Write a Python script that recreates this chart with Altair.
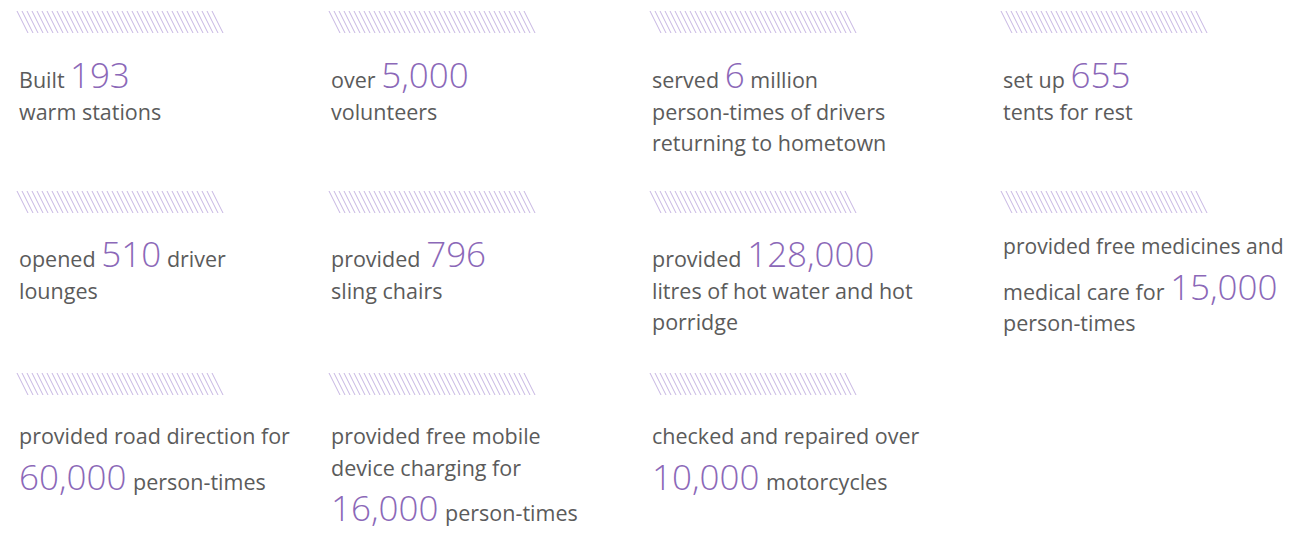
import altair as alt
import pandas as pd

# ---------------- data ----------------
numbers = ["193", "5,000", "6", "655", "510", "796", "128,000", "15,000",
           "60,000", "16,000", "10,000"]
texts = [
    ["Built {n}", "warm stations"],
    ["over {n}", "volunteers"],
    ["served {n} million", "person-times of drivers", "returning to hometown"],
    ["set up {n}", "tents for rest"],
    ["opened {n} driver", "lounges"],
    ["provided {n}", "sling chairs"],
    ["provided {n}", "litres of hot water and hot", "porridge"],
    ["provided free medicines and", "medical care for {n}", "person-times"],
    ["provided road direction for", "{n} person-times"],
    ["provided free mobile", "device charging for", "{n} person-times"],
    ["checked and repaired over", "{n} motorcycles"],
]

# ---------------- layout (page pixels) ----------------
COL_X = [19, 331, 652, 1003]
HATCH_TOP = [11, 191, 373]
FIRST_BASE = [88, 88, 88, 88, 267, 267, 267, 254, 444, 444, 444]
GAP = 31.5
GAP_NUM = 45.5
TXT_SIZE = 21.5
NUM_SIZE = 35
RIGHT_EDGE = 1284
TXT_COLOR = "#5b5b5b"
NUM_COLOR = "#8b68b8"
HATCH_COLOR = "#c6b5e2"

W_EM = {" ": .26, "a": .556, "b": .613, "c": .476, "d": .613, "e": .561, "f": .339,
        "g": .548, "h": .614, "i": .253, "j": .253, "k": .525, "l": .253, "m": .930,
        "n": .614, "o": .604, "p": .613, "q": .613, "r": .408, "s": .477, "t": .353,
        "u": .614, "v": .501, "w": .778, "x": .524, "y": .502, "z": .477, "-": .322,
        ",": .24, "B": .635}


def em(s):
    return sum(W_EM.get(ch, .572) for ch in s)


def tw(s, size):
    return em(s) * size


def fit(s, x, size):
    # shrink a text only if it would run past the right edge of the page
    return min(size, (RIGHT_EDGE - x) / em(s))


rows = []
for i, lines in enumerate(texts):
    r, c = divmod(i, 4)
    x0 = COL_X[c]
    y = FIRST_BASE[i]
    for j, line in enumerate(lines):
        if j > 0:
            y += GAP_NUM if "{n}" in line else GAP
        if "{n}" in line:
            pre, post = line.split("{n}")
            x = x0
            if pre:
                rows.append(dict(x=x, y=y, text=pre.strip(), kind="t", fs=fit(pre.strip(), x, TXT_SIZE)))
                x += tw(pre, TXT_SIZE)
            rows.append(dict(x=x, y=y, text=numbers[i], kind="n", fs=fit(numbers[i], x, NUM_SIZE)))
            x += tw(numbers[i], NUM_SIZE)
            if post.strip():
                x += tw(" ", TXT_SIZE)
                rows.append(dict(x=x, y=y, text=post.strip(), kind="t", fs=fit(post.strip(), x, TXT_SIZE)))
        else:
            rows.append(dict(x=x0, y=y, text=line, kind="t", fs=fit(line, x0, TXT_SIZE)))

seg = pd.DataFrame(rows)

hatch = []
for r in range(3):
    for c in range(4):
        if r * 4 + c >= len(texts):
            continue
        hx = COL_X[c] - 2
        for k in range(40):
            hatch.append(dict(x=hx + 5 * k, y=HATCH_TOP[r], x2=hx + 11 + 5 * k, y2=HATCH_TOP[r] + 22))
hatch = pd.DataFrame(hatch)

W, H = 1277, 518
xs = alt.Scale(domain=[8, 8 + W], range=[0, W], nice=False, zero=False)
ys = alt.Scale(domain=[8, 8 + H], range=[0, H], nice=False, zero=False)

hatch_layer = alt.Chart(hatch).mark_rule(color=HATCH_COLOR, strokeWidth=1).encode(
    x=alt.X("x:Q", scale=xs, axis=None),
    y=alt.Y("y:Q", scale=ys, axis=None),
    x2="x2:Q",
    y2="y2:Q",
)

txt_layer = alt.Chart(seg).transform_filter(alt.datum.kind == "t").mark_text(
    align="left", baseline="alphabetic", font="Open Sans", color=TXT_COLOR,
).encode(
    x=alt.X("x:Q", scale=xs, axis=None),
    y=alt.Y("y:Q", scale=ys, axis=None),
    size=alt.Size("fs:Q", scale=None),
    text="text:N",
)

num_layer = alt.Chart(seg).transform_filter(alt.datum.kind == "n").mark_text(
    align="left", baseline="alphabetic", font="Open Sans", fontWeight=300,
    color=NUM_COLOR,
).encode(
    x=alt.X("x:Q", scale=xs, axis=None),
    y=alt.Y("y:Q", scale=ys, axis=None),
    size=alt.Size("fs:Q", scale=None),
    text="text:N",
)

chart = alt.layer(hatch_layer, txt_layer, num_layer).properties(
    width=W, height=H, padding=0, background="white",
    autosize=alt.AutoSizeParams(type="none"),
).configure_view(strokeWidth=0)

chart.save("out.html", embed_options={"renderer": "svg", "actions": False})
